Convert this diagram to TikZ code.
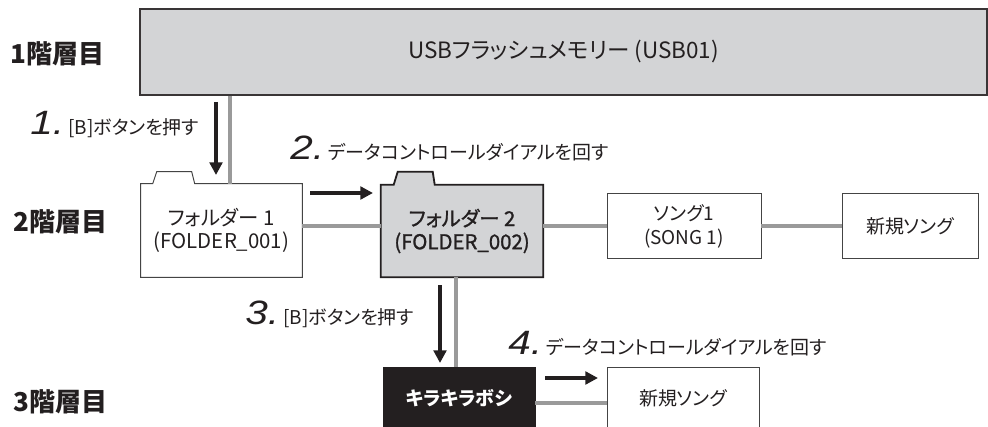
\documentclass[tikz,border=0pt]{standalone}
\usepackage{fontspec}
\setmainfont{Noto Sans CJK JP}[RawFeature=+palt]
\newfontfamily\midfont{Noto Sans CJK JP}[RawFeature=+palt, FakeBold=1.2]
\newfontfamily\stepfont{Liberation Sans}[FakeStretch=1.2]
\usetikzlibrary{arrows.meta,backgrounds}
\definecolor{ink}{HTML}{231F20}
\definecolor{usbfill}{HTML}{D3D4D6}
\definecolor{linkgray}{HTML}{9A9A9A}
\definecolor{boxline}{HTML}{444444}
\newcommand{\pxu}{0.025cm}
\newcommand{\stepnum}[1]{{\stepfont\itshape\fontsize{24}{24}\selectfont #1}\hspace{3pt}}

\tikzset{
  levellabel/.style={anchor=west, font=\bfseries\fontsize{18.5}{18.5}\selectfont, text=ink, inner sep=0pt},
  steplabel/.style={anchor=base west, font=\fontsize{13.5}{15}\selectfont, text=ink, inner sep=0pt},
  songbox/.style={draw=boxline, line width=0.7pt, fill=white, align=center, inner sep=0pt,
    font=\fontsize{13.5}{17}\selectfont, text=ink},
  folderbox/.style={align=center, inner sep=0pt, font=\fontsize{14.5}{16.5}\selectfont, text=ink},
  link/.style={draw=linkgray, line width=2.8pt},
  push/.style={draw=ink, line width=3.2pt, -{Triangle[length=9pt,width=9pt]}}
}

\begin{document}
\begin{tikzpicture}[x=0.025cm, y=-0.025cm]
  \path[use as bounding box, clip] (0,0) rectangle (988,427);

  % levels
  \node[levellabel] (lv1) at (10,54) {1階層目};
  \node[levellabel] (lv2) at (13,222) {2階層目};
  \node[levellabel] (lv3) at (13,402) {3階層目};

  % level 1
  \node[draw=ink!90, line width=1.1pt, fill=usbfill, minimum width=847*\pxu, minimum height=86*\pxu,
    font=\fontsize{16}{17}\selectfont, text=ink] (usb) at (563.5,52) {USBフラッシュメモリー (USB01)};

  % level 2
  \node[folderbox, minimum width=161*\pxu, minimum height=93*\pxu] (f1) at (221.5,230.5)
    {フォルダー 1\\(FOLDER\_001)};
  \node[folderbox, font=\midfont\fontsize{14.5}{16.5}\selectfont, minimum width=162*\pxu, minimum height=92*\pxu]
    (f2) at (462,231) {フォルダー 2\\(FOLDER\_002)};
  \node[songbox, minimum width=154*\pxu, minimum height=65*\pxu] (s1) at (684,226) {ソング1\\(SONG 1)};
  \node[songbox, minimum width=136*\pxu, minimum height=65*\pxu] (n1) at (910,226) {新規ソング};

  \begin{scope}[on background layer]
    \filldraw[draw=boxline, line width=0.7pt, fill=white] (f1.south west) -- (f1.north west) -- ++(12,0)
      -- ++(4,-12) -- ++(35,0) -- ++(3,12) -- (f1.north east) -- (f1.south east) -- cycle;
    \filldraw[draw=ink, line width=1.3pt, fill=usbfill] (f2.south west) -- (f2.north west) -- ++(13,0)
      -- ++(4,-13) -- ++(35,0) -- ++(2,13) -- (f2.north east) -- (f2.south east) -- cycle;
  \end{scope}

  % level 3
  \node[fill=ink, draw=ink, minimum width=152*\pxu, minimum height=62*\pxu, text=white,
    font=\bfseries\fontsize{13.5}{15}\selectfont] (kira) at (459,398) {キラキラボシ};
  \node[songbox, minimum width=152*\pxu, minimum height=62*\pxu] (n2) at (683,398) {新規ソング};

  % tree lines
  \coordinate (c1) at (230,0);
  \coordinate (c2) at (456,0);
  \coordinate (r3) at (0,403);
  \draw[link] (c1 |- usb.south) -- (c1 |- f1.north);
  \draw[link] (f1.east |- s1.west) -- (f2.west |- s1.west);
  \draw[link] (f2.east |- s1.west) -- (s1.west);
  \draw[link] (s1.east) -- (n1.west);
  \draw[link] (c2 |- f2.south) -- (c2 |- kira.north);
  \draw[link] (kira.east |- r3) -- (n2.west |- r3);

  % operations
  \coordinate (a1s) at (216,102); \coordinate (a1e) at (216,175);
  \coordinate (a2s) at (310,193); \coordinate (a2e) at (373,193);
  \coordinate (a3s) at (440,285); \coordinate (a3e) at (440,363);
  \coordinate (a4s) at (545,378); \coordinate (a4e) at (598,378);
  \draw[push] (a1s) -- (a1e);
  \draw[push] (a2s) -- (a2e);
  \draw[push] (a3s) -- (a3e);
  \draw[push] (a4s) -- (a4e);

  \node[steplabel] (st1) at (30,135) {\stepnum{1.}[B]ボタンを押す};
  \node[steplabel] (st2) at (290,160) {\stepnum{2.}データコントロールダイアルを回す};
  \node[steplabel] (st3) at (245,324) {\stepnum{3.}[B]ボタンを押す};
  \node[steplabel] (st4) at (508,354) {\stepnum{4.}データコントロールダイアルを回す};
\end{tikzpicture}
\end{document}
